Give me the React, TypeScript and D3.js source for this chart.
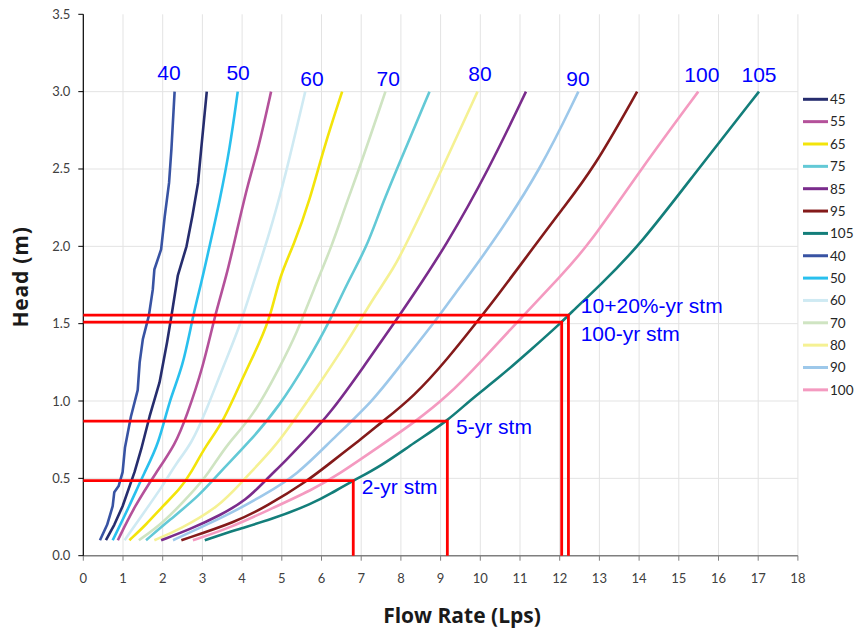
import React from "react";
import * as d3 from "d3";

// ---- data: [flow (Lps), head (m)] ----
const S40: [number, number][] = [[0.42,0.10],[0.60,0.20],[0.74,0.32],[0.78,0.41],[0.89,0.45],[0.99,0.54],[1.05,0.70],[1.20,0.90],[1.37,1.07],[1.42,1.25],[1.50,1.40],[1.65,1.55],[1.75,1.72],[1.79,1.85],[1.96,1.98],[2.05,2.19],[2.16,2.41],[2.22,2.63],[2.30,3.00]];
const S45: [number, number][] = [[0.57,0.10],[0.78,0.20],[0.99,0.32],[1.29,0.54],[1.46,0.69],[1.67,0.90],[1.92,1.12],[2.11,1.38],[2.22,1.55],[2.38,1.81],[2.60,2.00],[2.75,2.20],[2.89,2.41],[2.97,2.63],[3.11,3.00]];
const S50: [number, number][] = [[0.74,0.10],[1.16,0.32],[1.54,0.54],[1.90,0.72],[2.17,1.01],[2.51,1.22],[2.76,1.55],[2.97,1.76],[3.18,2.00],[3.44,2.30],[3.69,2.63],[3.89,3.00]];
const S55: [number, number][] = [[0.87,0.10],[1.29,0.32],[1.84,0.54],[2.32,0.72],[2.60,0.90],[3.02,1.22],[3.31,1.55],[3.61,1.81],[3.86,2.09],[4.15,2.41],[4.41,2.63],[4.73,3.00]];
const S60: [number, number][] = [[1.04,0.10],[1.50,0.27],[2.00,0.45],[2.34,0.60],[2.72,0.72],[3.10,0.94],[3.52,1.22],[3.94,1.48],[4.28,1.76],[4.70,2.09],[5.04,2.41],[5.25,2.63],[5.59,3.00]];
const S65: [number, number][] = [[1.16,0.10],[1.58,0.20],[2.00,0.32],[2.43,0.43],[2.68,0.52],[3.10,0.72],[3.52,0.86],[4.03,1.16],[4.45,1.38],[4.74,1.57],[4.95,1.81],[5.29,2.00],[5.71,2.30],[6.05,2.63],[6.52,3.00]];
const S70: [number, number][] = [[1.40,0.10],[2.00,0.21],[2.68,0.39],[3.18,0.54],[3.61,0.72],[4.28,0.90],[4.95,1.22],[5.38,1.44],[5.80,1.72],[6.26,2.00],[6.60,2.26],[6.95,2.50],[7.61,3.00]];
const S75: [number, number][] = [[1.58,0.10],[2.17,0.23],[2.93,0.39],[3.44,0.54],[4.20,0.74],[4.95,0.97],[5.63,1.25],[6.18,1.50],[6.64,1.76],[7.15,2.00],[7.48,2.24],[7.90,2.50],[8.72,3.00]];
const S80: [number, number][] = [[1.79,0.10],[2.43,0.17],[3.44,0.32],[4.03,0.49],[4.79,0.69],[5.38,0.90],[5.97,1.12],[6.64,1.38],[6.97,1.52],[7.35,1.68],[7.82,1.86],[8.11,2.00],[9.04,2.50],[9.93,3.00]];
const S85: [number, number][] = [[1.96,0.10],[2.68,0.17],[3.44,0.26],[4.11,0.36],[4.60,0.49],[5.12,0.62],[5.60,0.75],[6.22,0.92],[7.06,1.22],[7.90,1.53],[8.23,1.655],[9.13,2.00],[10.22,2.50],[11.15,3.00]];
const S90: [number, number][] = [[2.26,0.10],[2.85,0.17],[3.69,0.27],[4.53,0.39],[5.38,0.52],[6.26,0.75],[7.30,1.00],[7.95,1.22],[8.91,1.53],[9.25,1.655],[10.26,2.00],[11.53,2.50],[12.47,3.00]];
const S95: [number, number][] = [[2.47,0.10],[3.86,0.22],[4.62,0.32],[5.63,0.48],[6.22,0.60],[6.98,0.75],[7.50,0.86],[8.33,1.03],[9.17,1.27],[9.97,1.53],[10.36,1.655],[11.36,2.00],[12.03,2.23],[12.85,2.50],[13.95,3.00]];
const S100: [number, number][] = [[2.76,0.10],[3.69,0.18],[4.62,0.29],[5.80,0.43],[6.40,0.52],[7.48,0.71],[8.33,0.86],[9.17,1.03],[10.00,1.25],[11.00,1.53],[12.03,1.81],[12.71,2.00],[14.05,2.50],[15.49,3.00]];
const S105: [number, number][] = [[3.06,0.10],[3.86,0.17],[4.70,0.23],[5.80,0.34],[6.22,0.40],[6.80,0.485],[7.50,0.58],[8.33,0.73],[9.17,0.87],[9.76,1.01],[10.42,1.14],[11.27,1.33],[12.05,1.51],[12.22,1.555],[13.02,1.75],[14.00,2.00],[15.49,2.50],[17.02,3.00]];

const legendOrder = ["45", "55", "65", "75", "85", "95", "105", "40", "50", "60", "70", "80", "90", "100"];
const seriesData: Record<string, [number, number][]> = {
  "40": S40, "45": S45, "50": S50, "55": S55, "60": S60, "65": S65, "70": S70,
  "75": S75, "80": S80, "85": S85, "90": S90, "95": S95, "100": S100, "105": S105,
};
const seriesColors: Record<string, string> = {
  "45": "#262D6E", "55": "#B4519A", "65": "#F3E40A", "75": "#63C9D6", "85": "#7A2C8C",
  "95": "#841A1A", "105": "#137E7A", "40": "#3853A3", "50": "#29C0EE", "60": "#CFEAF3",
  "70": "#CFE4C2", "80": "#F5F193", "90": "#9DC8EA", "100": "#F49AC0",
};

const curveLabels = ["40", "50", "60", "70", "80", "90", "100", "105"];
const curveLabelFlow = [2.16, 3.90, 5.76, 7.68, 9.99, 12.46, 15.58, 17.02];
const curveLabelHead = [3.075, 3.075, 3.036, 3.036, 3.07, 3.036, 3.06, 3.06];

const stormLabels = ["2-yr stm", "5-yr stm", "100-yr stm", "10+20%-yr stm"];
const stormHeads = [0.485, 0.87, 1.51, 1.555];
const stormFlows = [6.80, 9.17, 12.05, 12.22];
const stormDx = [8.4, 8.7, 19, 12.4];
const stormDy = [13.6, 13, 19, -2.5];

const xTicks = d3.range(0, 19);
const yTicks = [0, 0.5, 1, 1.5, 2, 2.5, 3, 3.5];

const W = 857, H = 633;
const X0 = 83.3, X1 = 797.9, Y0 = 555.7, Y1 = 14.3;

export default function App() {
  const x = d3.scaleLinear().domain([0, 18]).range([X0, X1]);
  const y = d3.scaleLinear().domain([0, 3.5]).range([Y0, Y1]);
  const mkLine = (jagged: boolean) => d3.line<[number, number]>()
    .x((d) => x(d[0]))
    .y((d) => y(d[1]))
    .curve(jagged ? d3.curveLinear : d3.curveBasis);

  const tickFont = "Lato, 'Open Sans', sans-serif";
  const drawOrder = ["40", "45", "50", "55", "60", "65", "70", "75", "80", "85", "90", "95", "100", "105"];

  return (
    <svg width={W} height={H} style={{ position: "absolute", left: 0, top: 0, background: "#fff" }}>
      <rect x={0} y={0} width={W} height={H} fill="#fff" />
      {/* gridlines */}
      {xTicks.filter((t) => t > 0).map((t) => (
        <line key={"gx" + t} x1={x(t)} x2={x(t)} y1={Y1} y2={Y0} stroke="#e3e3e3" strokeWidth={1} />
      ))}
      {yTicks.filter((t) => t > 0 && t < 3.5).map((t) => (
        <line key={"gy" + t} x1={X0} x2={X1} y1={y(t)} y2={y(t)} stroke="#e3e3e3" strokeWidth={1} />
      ))}
      {/* x axis */}
      <line x1={X0} x2={X1} y1={Y0} y2={Y0} stroke="#7f7f7f" strokeWidth={1.5} />
      {xTicks.map((t) => (
        <g key={"xt" + t}>
          <line x1={x(t)} x2={x(t)} y1={Y0} y2={Y0 + 5} stroke="#7f7f7f" strokeWidth={1} />
          <text x={x(t)} y={Y0 + 27} textAnchor="middle" fontSize={13} fill="#404040" fontFamily={tickFont}>{t}</text>
        </g>
      ))}
      {/* y axis */}
      <line x1={X0} x2={X0} y1={Y1} y2={Y0} stroke="#000" strokeWidth={1.2} />
      {yTicks.map((t) => (
        <g key={"yt" + t}>
          <line x1={X0 - 5} x2={X0} y1={y(t)} y2={y(t)} stroke="#000" strokeWidth={1} />
          <text x={X0 - 13} y={y(t) + 4.5} textAnchor="end" fontSize={13} fill="#404040" fontFamily={tickFont}>{t.toFixed(1)}</text>
        </g>
      ))}
      {/* curves */}
      {drawOrder.map((k) => (
        <path key={"c" + k} d={mkLine(k === "40" || k === "45")(seriesData[k]) || ""} fill="none" stroke={seriesColors[k]} strokeWidth={2.6} strokeLinejoin="round" />
      ))}
      {/* storm lines */}
      {stormHeads.map((h, i) => (
        <path key={"s" + i}
          d={`M${x(0)},${y(h)}L${x(stormFlows[i])},${y(h)}L${x(stormFlows[i])},${y(0)}`}
          fill="none" stroke="#FF0000" strokeWidth={2.8} />
      ))}
      {stormLabels.map((s, i) => (
        <text key={"sl" + i} x={x(stormFlows[i]) + stormDx[i]} y={y(stormHeads[i]) + stormDy[i]}
          fontSize={21} fill="#0000FF" fontFamily="'Liberation Sans', Arial, sans-serif">{s}</text>
      ))}
      {/* curve labels */}
      {curveLabels.map((s, i) => (
        <text key={"cl" + i} x={x(curveLabelFlow[i])} y={y(curveLabelHead[i])} textAnchor="middle"
          fontSize={21} fill="#0000FF" fontFamily="'Liberation Sans', Arial, sans-serif">{s}</text>
      ))}
      {/* legend */}
      {legendOrder.map((k, i) => (
        <g key={"lg" + k} transform={`translate(0,${99.3 + i * 22.35})`}>
          <line x1={803} x2={828} y1={0} y2={0} stroke={seriesColors[k]} strokeWidth={3} />
          <text x={830} y={4.8} fontSize={13.5} fill="#262626" fontFamily={tickFont}>{k}</text>
        </g>
      ))}
      {/* axis titles */}
      <text x={462} y={623} textAnchor="middle" fontSize={21} fontWeight="bold" fill="#1a1a1a" fontFamily="'Open Sans', sans-serif">Flow Rate (Lps)</text>
      <text transform="translate(28,277) rotate(-90)" textAnchor="middle" fontSize={21} fontWeight="bold" fill="#1a1a1a" fontFamily="'Open Sans', sans-serif" letterSpacing={0.8}>Head (m)</text>
    </svg>
  );
}
